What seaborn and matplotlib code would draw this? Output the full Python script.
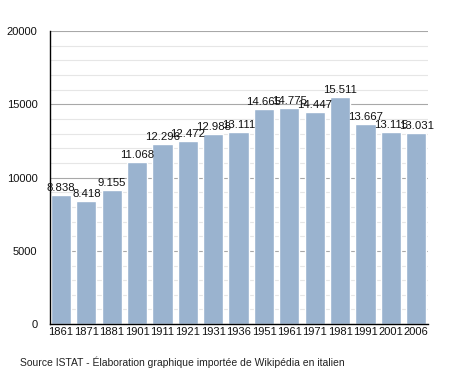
import matplotlib
matplotlib.use("Agg")
import matplotlib.pyplot as plt
import seaborn as sns
import pandas as pd
from matplotlib.ticker import MultipleLocator

years = ["1861", "1871", "1881", "1901", "1911", "1921", "1931", "1936",
         "1951", "1961", "1971", "1981", "1991", "2001", "2006"]
population = [8838, 8418, 9155, 11068, 12296, 12472, 12988, 13111,
              14665, 14775, 14447, 15511, 13667, 13115, 13031]
yticks = [0, 5000, 10000, 15000, 20000]

df = pd.DataFrame({"year": years, "pop": population})

sns.set_style("white")
fig = plt.figure(figsize=(4.55, 3.73), dpi=100)
ax = fig.add_axes([0.110, 0.131, 0.831, 0.786])

ax.yaxis.set_minor_locator(MultipleLocator(1000))
ax.grid(axis="y", which="minor", color="#e6e6e6", linewidth=0.8, zorder=0)
ax.grid(axis="y", which="major", color="#a8a8a8", linewidth=0.8, zorder=0)
ax.set_axisbelow(True)

sns.barplot(data=df, x="year", y="pop", color="#9ab3cf", saturation=1,
            width=0.8, ax=ax, zorder=2)

for i, v in enumerate(population):
    ax.text(i, v + 130, f"{v/1000:.3f}", ha="center", va="bottom",
            fontsize=8.2, color="#111111", family="Liberation Sans", zorder=3)

ax.set_ylim(0, 20000)
ax.set_xlim(-0.43, len(years) - 0.53)
ax.set_yticks(yticks)
ax.set_yticklabels([str(t) for t in yticks])
ax.set_xlabel("")
ax.set_ylabel("")
for s in ["top", "right"]:
    ax.spines[s].set_visible(False)
ax.spines["left"].set_color("black")
ax.spines["bottom"].set_color("black")
ax.spines["left"].set_linewidth(1)
ax.spines["bottom"].set_linewidth(1)
ax.tick_params(axis="y", which="major", length=5, width=0.8, color="black",
               direction="out", labelsize=8, pad=4)
ax.tick_params(axis="y", which="minor", length=2, width=0.8, color="black",
               direction="out")
ax.tick_params(axis="x", length=0, labelsize=8, pad=2)
for lab in ax.get_xticklabels() + ax.get_yticklabels():
    lab.set_family("Liberation Sans")
    lab.set_color("#111111")

fig.text(0.044, 0.013, "Source ISTAT - Élaboration graphique importée de Wikipédia en italien",
         fontsize=7.5, family="Liberation Sans", color="#222222", va="bottom")

fig.savefig("out.png", dpi=100)
